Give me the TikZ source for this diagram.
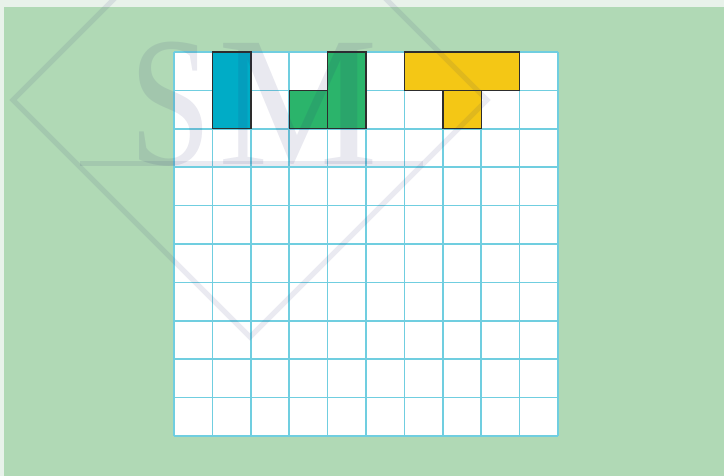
\documentclass[tikz,border=0pt]{standalone}
\usepackage{fontspec}
\newfontfamily\wmfont{Liberation Serif}
\definecolor{bgtop}{RGB}{232,242,234}
\definecolor{bggreen}{RGB}{176,217,181}
\definecolor{gridc}{RGB}{112,206,224}
\definecolor{tblue}{RGB}{0,172,198}
\definecolor{tgreen}{RGB}{43,180,107}
\definecolor{tyellow}{RGB}{244,199,21}
\definecolor{edgec}{RGB}{45,45,45}
\definecolor{wm}{RGB}{40,40,110}
\begin{document}
\begin{tikzpicture}[x=1pt,y=-1pt,
  gridline/.style={draw=gridc,line width=1.5pt},
  piece/.style={draw=edgec,line width=1.4pt,line join=miter},
  wmline/.style={draw=wm,draw opacity=0.095,line width=5pt},
  wmtext/.style={text=wm,text opacity=0.1,inner sep=0pt,font=\wmfont\fontsize{185}{185}\selectfont}]
\useasboundingbox (0,0) rectangle (724,476);
\clip (0,0) rectangle (724,476);
\fill[bgtop] (0,0) rectangle (724,476);
\fill[bggreen] (4,7) rectangle (724,476);
% grid
\fill[white] (174,52) rectangle (558,436);
\foreach \i in {0,...,10} {
  \draw[gridline] ({174+38.4*\i},52) -- ({174+38.4*\i},436);
  \draw[gridline] (174,{52+38.4*\i}) -- (558,{52+38.4*\i});
}
% pieces
\filldraw[piece,fill=tblue] (212.4,52) rectangle (250.8,128.8);
\filldraw[piece,fill=tgreen] (289.2,90.4) rectangle (327.6,128.8);
\filldraw[piece,fill=tgreen] (327.6,52) rectangle (366,128.8);
\filldraw[piece,fill=tyellow] (442.8,90.4) rectangle (481.2,128.8);
\filldraw[piece,fill=tyellow] (404.4,52) rectangle (519.6,90.4);
% watermark
\coordinate (wt) at (250,-137);
\coordinate (wr) at (487,100);
\coordinate (wb) at (250,337);
\coordinate (wl) at (13,100);
\coordinate (hl) at (80,164);
\coordinate (hr) at (423,164);
\draw[wmline,line join=miter] (wt) -- (wr) -- (wb) -- (wl) -- cycle;
\draw[wmline] (hl) -- (hr);
\node[wmtext,anchor=base,xscale=0.8] (wmS) at (171,165) {S};
\node[wmtext,anchor=base,xscale=0.97] (wmM) at (298,165) {M};
\end{tikzpicture}
\end{document}
